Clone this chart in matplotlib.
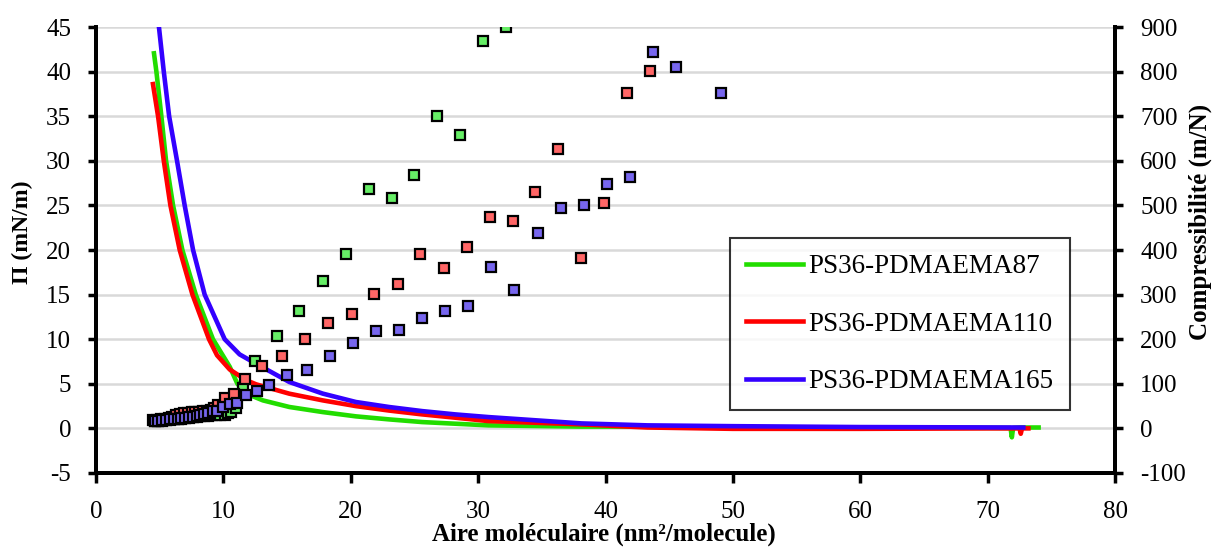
import numpy as np
import matplotlib
matplotlib.use("Agg")
import matplotlib.pyplot as plt

plt.rcParams['font.family'] = ['Liberation Serif', 'DejaVu Serif']
plt.rcParams['axes.unicode_minus'] = False

# isothermes Pi = f(aire)
aire_87 = [4.55, 4.74, 5.13, 5.5, 6.05, 6.78, 7.83, 9.18, 10.5, 11.1, 11.8,
           13.1, 15.18, 17.8, 20.4, 23.0, 25.6, 30.8, 38.1, 43.3, 50.0, 60.0,
           71.8, 71.9, 72.0, 72.5, 74.0]
pi_87 = [42.05, 40.0, 35.0, 30.0, 25.0, 20.0, 15.0, 10.0, 6.9, 5.0, 3.9,
         3.14, 2.4, 1.83, 1.35, 1.01, 0.71, 0.34, 0.2, 0.2, 0.15, 0.1,
         0.05, -1.0, 0.05, 0.1, 0.1]

aire_110 = [4.47, 4.87, 5.32, 5.84, 6.57, 7.57, 8.87, 9.5, 10.5, 11.8, 12.57,
            15.18, 17.8, 20.4, 23.0, 25.6, 28.2, 30.8, 38.1, 43.3, 50.0, 60.0,
            70.0, 72.5, 72.6, 72.7, 73.2]
pi_110 = [38.6, 35.0, 30.0, 25.0, 20.0, 15.0, 10.0, 8.2, 6.6, 5.4, 4.94,
          3.89, 3.14, 2.5, 2.0, 1.57, 1.2, 0.82, 0.45, 0.1, -0.05, -0.05,
          0.0, 0.0, -0.6, 0.0, 0.0]

aire_165 = [4.85, 4.94, 5.32, 5.74, 6.36, 6.96, 7.62, 8.53, 10.1, 11.27, 12.5,
            15.18, 17.8, 20.4, 23.0, 25.6, 28.2, 30.8, 38.1, 43.3, 50.0, 60.0, 72.8]
pi_165 = [46.0, 45.0, 40.0, 35.0, 30.0, 25.0, 20.0, 15.0, 10.0, 8.3, 7.3,
          5.2, 3.9, 2.96, 2.4, 1.94, 1.57, 1.27, 0.56, 0.34, 0.25, 0.15, 0.1]

# compressibilite (m/N)
ca_87 = [4.6, 4.9, 5.2, 5.5, 5.8, 6.1, 6.4, 6.7, 7.0, 7.3, 7.6, 7.9, 8.2, 8.5, 8.8,
         9.1, 9.4, 9.7, 10.1, 10.4, 10.6, 11.0, 11.5, 12.5, 14.2, 15.9, 17.8, 19.6,
         21.4, 23.2, 25.0, 26.8, 28.6, 30.4, 32.2]
cc_87 = [16, 16, 17, 18, 19, 20, 21, 22, 23, 24, 25, 26, 27, 27, 28,
         29, 29, 29, 31, 34, 37, 45, 90, 151, 207, 263, 331, 391,
         536, 516, 568, 700, 657, 869, 900]

ca_110 = [4.5, 4.8, 5.1, 5.4, 5.7, 6.0, 6.3, 6.6, 6.9, 7.2, 7.5, 7.8, 8.1, 8.4, 8.7,
          9.0, 9.3, 9.6, 10.1, 10.8, 11.7, 13.0, 14.6, 16.4, 18.2, 20.1, 21.8, 23.7,
          25.4, 27.3, 29.1, 30.9, 32.7, 34.5, 36.3, 38.1, 39.9, 41.7, 43.5]
cc_110 = [18, 19, 20, 22, 24, 26, 29, 32, 34, 35, 36, 36, 37, 38, 40,
          42, 45, 52, 69, 78, 111, 139, 162, 200, 236, 257, 302, 323,
          391, 360, 407, 474, 464, 531, 626, 381, 506, 751, 801]

ca_165 = [4.6, 4.9, 5.2, 5.5, 5.8, 6.1, 6.4, 6.7, 7.0, 7.3, 7.6, 7.9, 8.2, 8.5, 8.8,
          9.2, 9.5, 10.0, 10.5, 11.1, 11.8, 12.6, 13.6, 15.0, 16.6, 18.4, 20.2, 22.0,
          23.8, 25.6, 27.4, 29.2, 31.0, 32.8, 34.7, 36.5, 38.3, 40.1, 41.9, 43.7,
          45.5, 49.1]
cc_165 = [17, 17, 18, 19, 20, 21, 22, 23, 24, 25, 26, 28, 30, 32, 35,
          38, 40, 48, 54, 58, 76, 83, 97, 119, 130, 162, 192, 218,
          220, 247, 263, 274, 362, 310, 438, 495, 502, 548, 564, 845,
          811, 753]

fig = plt.figure(figsize=(12.17, 5.47), dpi=100)
ax1 = fig.add_axes([0.0789, 0.1353, 0.9162 - 0.0789, 0.9506 - 0.1353])
ax2 = ax1.twinx()

ax1.plot(aire_87, pi_87, color='#22dd00', lw=3.3, label='PS36-PDMAEMA87')
ax1.plot(aire_110, pi_110, color='#ff0000', lw=3.3, label='PS36-PDMAEMA110')
ax1.plot(aire_165, pi_165, color='#3300ff', lw=3.3, label='PS36-PDMAEMA165')

ms = 7.5
ax2.plot(ca_87, cc_87, 's', ms=ms, mfc='#66ee66', mec='black', mew=1.6)
ax2.plot(ca_110, cc_110, 's', ms=ms, mfc='#ff6666', mec='black', mew=1.6)
ax2.plot(ca_165, cc_165, 's', ms=ms, mfc='#7766ee', mec='black', mew=1.6)

ax1.set_xlim(0, 80)
ax1.set_ylim(-5, 45)
ax2.set_ylim(-100, 900)
ax1.set_xticks(np.arange(0, 81, 10))
ax1.set_yticks(np.arange(-5, 46, 5))
ax2.set_yticks(np.arange(-100, 901, 100))

ax1.yaxis.grid(True, color='#d9d9d9', lw=1.8)
ax1.set_axisbelow(True)

for ax in (ax1, ax2):
    ax.spines['top'].set_visible(False)
    for s in ('left', 'right', 'bottom'):
        ax.spines[s].set_linewidth(2.8)
    ax.tick_params(width=2.5, length=6, labelsize=18, pad=12)
ax1.tick_params(axis='x', length=7, pad=13)

ax1.set_xlabel('Aire moléculaire (nm²/molecule)', fontsize=18, fontweight='bold')
ax1.set_ylabel('Π (mN/m)', fontsize=17, fontweight='bold')
ax2.set_ylabel('Compressibilité (m/N)', fontsize=18, fontweight='bold')
ax1.xaxis.set_label_coords(0.4985, -0.112)
ax1.yaxis.set_label_coords(-0.062, 0.54)
ax2.yaxis.set_label_coords(1.072, 0.563)

h, l = ax1.get_legend_handles_labels()
leg = ax2.legend(h, l, loc='upper left', bbox_to_anchor=(0.622, 0.527),
                 fontsize=19.5, frameon=True, fancybox=False, edgecolor='black',
                 handlelength=2.1, handletextpad=0.2, labelspacing=1.2,
                 borderpad=0.6, borderaxespad=0)
leg.get_frame().set_linewidth(1.5)

fig.savefig('out.png', dpi=100)
